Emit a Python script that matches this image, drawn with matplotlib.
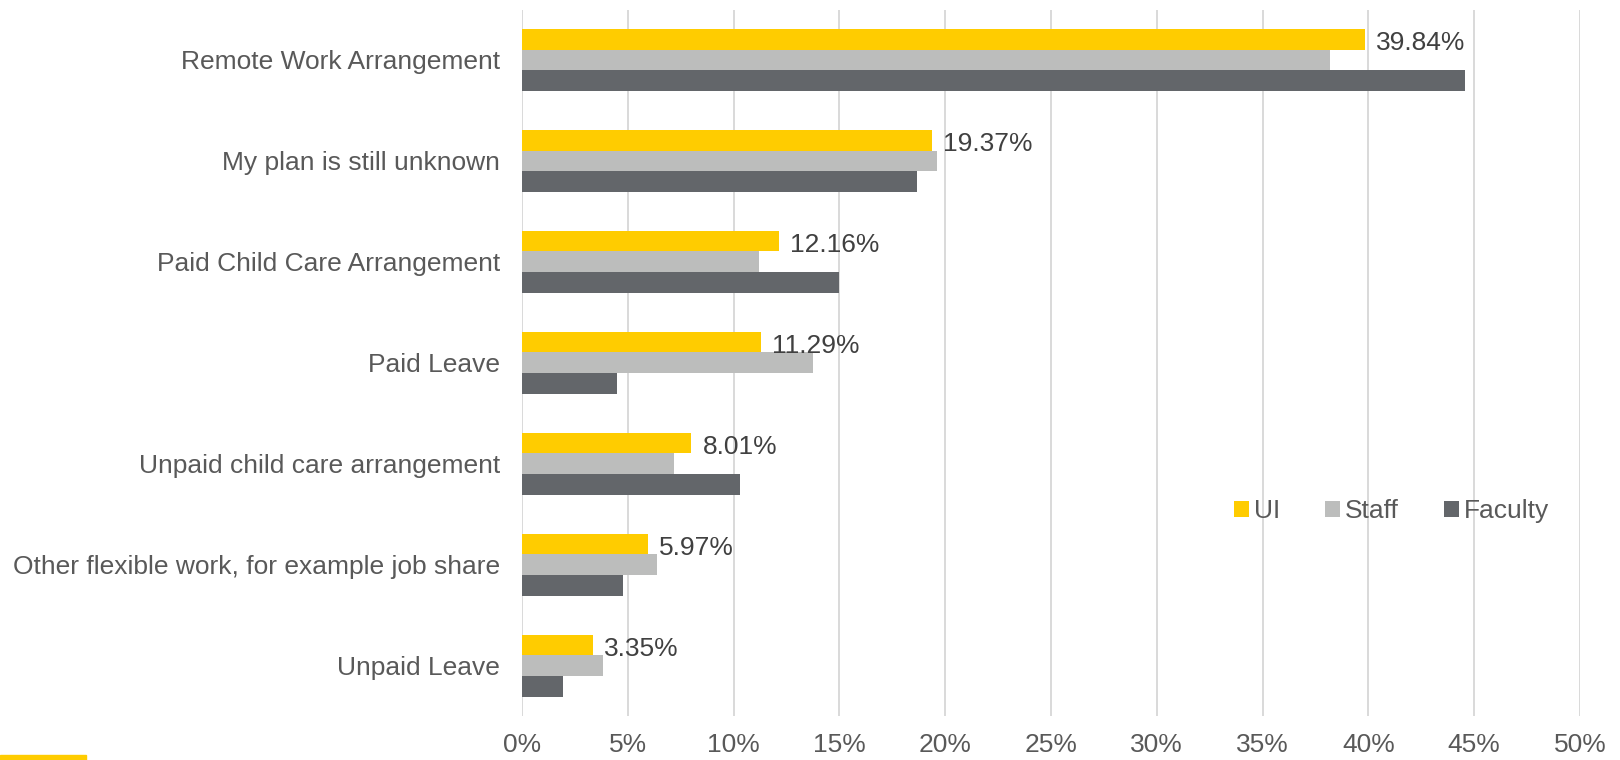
import numpy as np
import matplotlib
matplotlib.use("Agg")
import matplotlib.pyplot as plt
from matplotlib.patches import Rectangle
from matplotlib.ticker import FuncFormatter

plt.rcParams["font.family"] = ["Liberation Sans", "DejaVu Sans"]

# data
categories = ["Remote Work Arrangement", "My plan is still unknown",
              "Paid Child Care Arrangement", "Paid Leave",
              "Unpaid child care arrangement",
              "Other flexible work, for example job share", "Unpaid Leave"]
ui = [39.84, 19.37, 12.16, 11.29, 8.01, 5.97, 3.35]
staff = [38.2, 19.6, 11.2, 13.75, 7.2, 6.4, 3.85]
faculty = [44.55, 18.65, 15.0, 4.5, 10.3, 4.75, 1.95]
series_names = ["UI", "Staff", "Faculty"]
colors = ["#FFCC00", "#BCBDBC", "#63666A"]

fs = 19

fig = plt.figure(figsize=(16.2, 7.6), dpi=100)
ax = fig.add_axes([522 / 1620, 1 - 716 / 760, (1580 - 522) / 1620, (716 - 9.5) / 760])

y = np.arange(len(categories))
h = 0.205
for k, (vals, name, col) in enumerate(zip([ui, staff, faculty], series_names, colors)):
    ax.barh(y + (k - 1) * h, vals, height=h, color=col, label=name, zorder=3)

# data labels on UI bars
for yi, v in zip(y, ui):
    ax.annotate(f"{v:.2f}%", (v, yi - h), xytext=(8, -3), textcoords="offset points",
                va="center", ha="left", fontsize=fs, color="#404040")

ax.set_xlim(0, 50)
ax.set_ylim(len(categories) - 0.5, -0.5)
ax.set_xticks(np.arange(0, 51, 5))
ax.xaxis.set_major_formatter(FuncFormatter(lambda v, p: f"{v:.0f}%"))
ax.set_yticks(y)
ax.set_yticklabels(categories)
ax.grid(axis="x", color="#D9D9D9", linewidth=1.4, zorder=0)
for s in ax.spines.values():
    s.set_visible(False)
ax.tick_params(axis="y", length=0, pad=16, labelsize=fs, labelcolor="#595959")
ax.tick_params(axis="x", length=0, pad=12, labelsize=fs, labelcolor="#595959")

ax.legend(loc="center left", bbox_to_anchor=(1234 / 1620, 1 - 511 / 760),
          bbox_transform=fig.transFigure, ncol=3, frameon=False, fontsize=fs,
          handlelength=0.55, handleheight=0.55, handletextpad=0.2,
          columnspacing=1.72, borderpad=0, borderaxespad=0, labelcolor="#595959")

# small yellow strip in the bottom left corner
fig.patches.append(Rectangle((0, 0), 86 / 1620, 5 / 760, transform=fig.transFigure,
                             color="#FFCC00", zorder=5))

fig.savefig("out.png", dpi=100)
